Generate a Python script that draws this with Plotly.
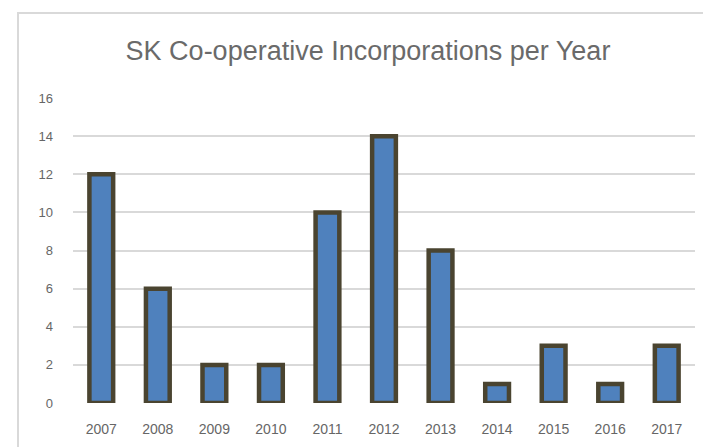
import plotly.graph_objects as go

years = ["2007", "2008", "2009", "2010", "2011", "2012", "2013", "2014", "2015", "2016", "2017"]
counts = [12, 6, 2, 2, 10, 14, 8, 1, 3, 1, 3]
y_ticks = [0, 2, 4, 6, 8, 10, 12, 14, 16]
title_text = "SK Co-operative Incorporations per Year"

W, H = 703, 447
ml, mr, mt, mb = 73, 8, 98, 44
pw = W - ml - mr
ph = H - mt - mb

fig = go.Figure()
fig.add_trace(go.Bar(
    x=years, y=counts,
    marker=dict(color="#4f81bd", line=dict(color="#4a4430", width=4.5)),
))

fig.update_layout(
    width=W, height=H,
    margin=dict(l=ml, r=mr, t=mt, b=mb),
    paper_bgcolor="white", plot_bgcolor="white",
    bargap=0.58,
    showlegend=False,
    font=dict(family="Liberation Sans, Arial, sans-serif", color="#666666"),
    title=dict(text=title_text, x=(368 - ml) / pw, xref="paper", xanchor="center",
               y=1 - 51 / H, yanchor="middle",
               font=dict(size=27, color="#6a6a6a")),
    xaxis=dict(showgrid=False, showline=False, ticks="", tickfont=dict(size=14),
               ticklabelstandoff=16),
    yaxis=dict(range=[0, 16], tickvals=y_ticks, showgrid=True, gridcolor="#d9d9d9",
               gridwidth=2, zeroline=False, showline=False, ticks="",
               tickfont=dict(size=13), ticklabelstandoff=19),
    shapes=[dict(type="rect", xref="paper", yref="paper",
                 x0=(18 - ml) / pw, x1=1.2, y0=-0.3, y1=(H - mb - 13) / ph,
                 line=dict(color="#d9d9d9", width=2), fillcolor="rgba(0,0,0,0)",
                 layer="below")],
)

fig.write_html("out.html", config={"displayModeBar": False},
               post_script="document.body.style.margin='0';document.body.style.overflow='hidden';")
